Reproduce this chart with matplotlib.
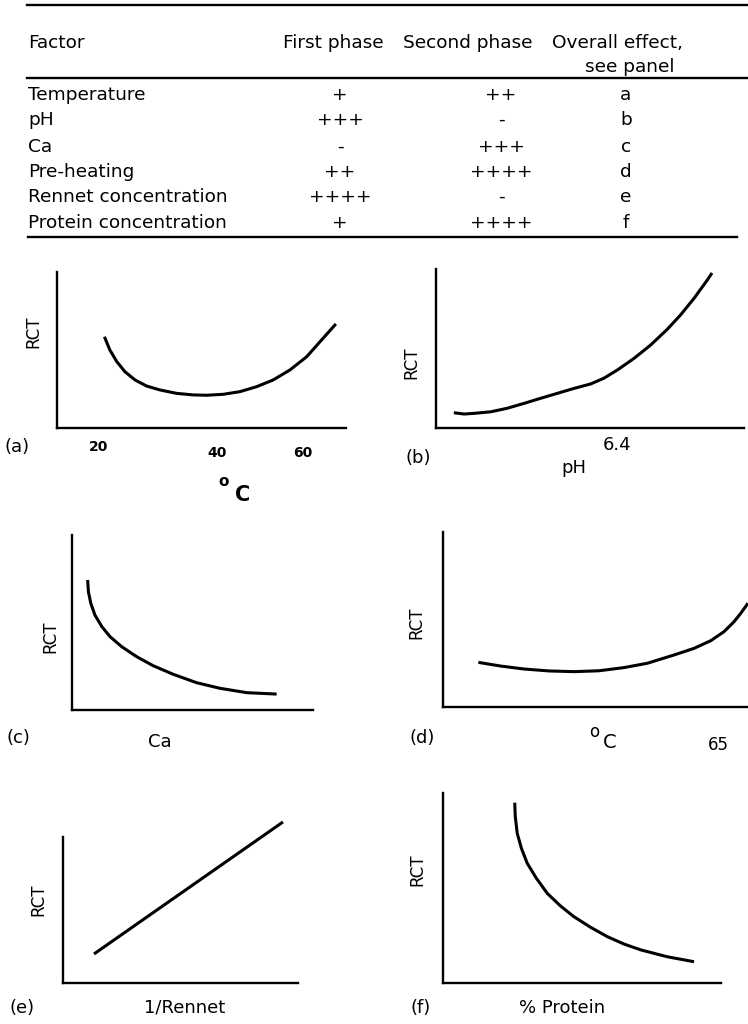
import matplotlib
matplotlib.use("Agg")
from matplotlib import pyplot as plt

# table contents
factors = ["Temperature", "pH", "Ca", "Pre-heating", "Rennet concentration", "Protein concentration"]
first_phase = ["+", "+++", "-", "++", "++++", "+"]
second_phase = ["++", "-", "+++", "++++", "-", "++++"]
panel_ref = ["a", "b", "c", "d", "e", "f"]

# curves (arbitrary units, 0-10 on both axes)
a_x = [1.64, 1.83, 2.07, 2.35, 2.70, 3.10, 3.56, 4.14, 4.72, 5.18, 5.75, 6.33, 6.91, 7.48, 8.06, 8.64, 9.10, 9.65]
a_y = [5.85, 5.00, 4.25, 3.61, 3.08, 2.69, 2.44, 2.22, 2.12, 2.10, 2.16, 2.33, 2.65, 3.08, 3.72, 4.57, 5.53, 6.67]
b_x = [0.58, 0.91, 1.23, 1.78, 2.31, 2.86, 3.40, 3.94, 4.48, 5.02, 5.45, 5.89, 6.43, 6.97, 7.51, 7.94, 8.38, 8.81, 8.96]
b_y = [0.96, 0.88, 0.92, 1.02, 1.24, 1.55, 1.87, 2.18, 2.49, 2.77, 3.13, 3.65, 4.38, 5.22, 6.21, 7.11, 8.16, 9.31, 9.75]
c_x = [0.65, 0.68, 0.78, 0.95, 1.24, 1.58, 2.06, 2.68, 3.37, 4.20, 5.17, 6.14, 7.25, 8.49]
c_y = [7.43, 6.76, 6.10, 5.43, 4.76, 4.19, 3.62, 3.05, 2.53, 2.04, 1.56, 1.24, 0.99, 0.91]
d_x = [1.16, 1.89, 2.66, 3.48, 4.30, 5.11, 5.93, 6.70, 7.57, 8.23, 8.78, 9.21, 9.54, 9.76, 10.0]
d_y = [2.55, 2.34, 2.17, 2.06, 2.02, 2.07, 2.25, 2.50, 2.97, 3.35, 3.79, 4.30, 4.87, 5.35, 5.93]
e_x = [1.32, 9.36]
e_y = [1.99, 11.03]
f_x = [2.58, 2.60, 2.67, 2.82, 3.03, 3.36, 3.75, 4.23, 4.71, 5.31, 5.91, 6.51, 7.12, 8.07, 9.03]
f_y = [9.49, 8.75, 7.88, 7.09, 6.30, 5.51, 4.72, 4.05, 3.49, 2.93, 2.44, 2.05, 1.74, 1.38, 1.12]

W, H = 748, 1024
fig = plt.figure(figsize=(W/100, H/100), dpi=100)
plt.rcParams['font.family'] = ['DejaVu Sans']

# background axes in pixel units for table + labels
bg = fig.add_axes([0, 0, 1, 1])
bg.set_xlim(0, W)
bg.set_ylim(H, 0)
bg.axis('off')

fs = 13.3
bg.plot([27, 748], [5, 5], color='black', lw=1.7)
bg.plot([27, 748], [78, 78], color='black', lw=1.7)
bg.plot([28, 737], [237, 237], color='black', lw=1.7)

bg.text(28, 43, "Factor", fontsize=fs, va='center', ha='left')
bg.text(333, 43, "First phase", fontsize=fs, va='center', ha='center')
bg.text(468, 43, "Second phase", fontsize=fs, va='center', ha='center')
bg.text(552, 43, "Overall effect,", fontsize=fs, va='center', ha='left')
bg.text(630, 67, "see panel", fontsize=fs, va='center', ha='center')

row_y = [95, 120, 147, 172, 197, 223]
for i in range(len(factors)):
    bg.text(28, row_y[i], factors[i], fontsize=fs, va='center', ha='left')
    bg.text(340, row_y[i], first_phase[i], fontsize=fs, va='center', ha='center')
    bg.text(501, row_y[i], second_phase[i], fontsize=fs, va='center', ha='center')
    bg.text(626, row_y[i], panel_ref[i], fontsize=fs, va='center', ha='center')


def panel(x0, ytop, x1, ybot, xs, ys):
    ax = fig.add_axes([x0/W, 1-ybot/H, (x1-x0)/W, (ybot-ytop)/H])
    ax.set_xlim(0, 10)
    ax.set_ylim(0, 10)
    ax.patch.set_alpha(0)
    for s in ['top', 'right']:
        ax.spines[s].set_visible(False)
    for s in ['left', 'bottom']:
        ax.spines[s].set_linewidth(1.7)
    ax.set_xticks([])
    ax.set_yticks([])
    ax.plot(xs, ys, color='black', lw=2.2, clip_on=False, solid_capstyle='butt')
    return ax


panel(57, 272, 346, 428, a_x, a_y)
panel(436, 269, 744, 428, b_x, b_y)
panel(72, 535, 313, 710, c_x, c_y)
panel(443, 532, 748, 707, d_x, d_y)
panel(63, 837, 298, 983, e_x, e_y)
panel(443, 793, 721, 983, f_x, f_y)

lf = 13
# RCT labels
for (x, y) in [(33, 332), (411, 363), (50, 637), (416, 623), (38, 900), (417, 870)]:
    bg.text(x, y, "RCT", fontsize=12, rotation=90, va='center', ha='center')

# panel letters
for (x, y, t) in [(17, 447, "(a)"), (418, 458, "(b)"), (18, 738, "(c)"),
                  (422, 738, "(d)"), (22, 1008, "(e)"), (421, 1008, "(f)")]:
    bg.text(x, y, t, fontsize=lf, va='center', ha='center')

# panel (a) axis text
bg.text(99, 447, "20", fontsize=10, fontweight='bold', va='center', ha='center')
bg.text(217, 453, "40", fontsize=10, fontweight='bold', va='center', ha='center')
bg.text(303, 453, "60", fontsize=10, fontweight='bold', va='center', ha='center')
bg.text(224, 482, "o", fontsize=11, fontweight='bold', va='center', ha='center')
bg.text(243, 495, "C", fontsize=15, fontweight='bold', va='center', ha='center')

# panel (b)
bg.text(617, 445, "6.4", fontsize=lf, va='center', ha='center')
bg.text(574, 468, "pH", fontsize=lf, va='center', ha='center')

# panel (c)
bg.text(160, 742, "Ca", fontsize=lf, va='center', ha='center')

# panel (d)
bg.text(594, 732, "o", fontsize=12, va='center', ha='center')
bg.text(610, 743, "C", fontsize=14, va='center', ha='center')
bg.text(718, 745, "65", fontsize=12, va='center', ha='center')

# panel (e), (f)
bg.text(185, 1007, "1/Rennet", fontsize=lf, va='center', ha='center')
bg.text(562, 1008, "% Protein", fontsize=lf, va='center', ha='center')

fig.savefig("out.png", dpi=100)
